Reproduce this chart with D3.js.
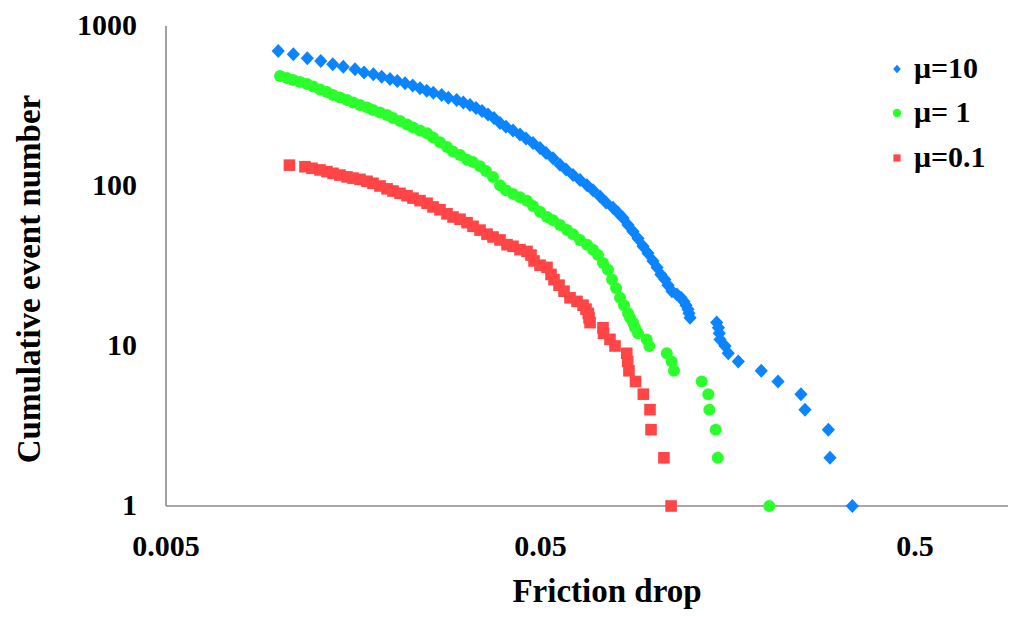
<!DOCTYPE html>
<html>
<head>
<meta charset="utf-8">
<script src="https://cdn.jsdelivr.net/npm/d3@7"></script>
<style>
  html, body { margin: 0; padding: 0; background: #fff; }
  svg { display: block; }
  text { font-family: "Liberation Serif", "Times New Roman", serif; fill: #000; }
</style>
</head>
<body>
<svg id="chart" width="1020" height="617"></svg>
<script>
// Cumulative number of events vs. friction drop, for three viscosity ratios.
const seriesNames = ["\u03bc=10", "\u03bc= 1", "\u03bc=0.1"];

// mu = 10
const mu10Drop = [0.00997, 0.01094, 0.01192, 0.01295, 0.01394, 0.01487, 0.01598, 0.01690, 0.01789, 0.01883,
  0.01982, 0.02073, 0.02174, 0.02279, 0.02384, 0.02484, 0.02587, 0.02723, 0.02837, 0.02987,
  0.03111, 0.03242, 0.03364, 0.03490, 0.03621, 0.03757, 0.03898, 0.04044, 0.04222, 0.04408,
  0.04574, 0.04775, 0.04985, 0.05172, 0.05400, 0.05637, 0.05850, 0.06107, 0.06376, 0.06656,
  0.06906, 0.07210, 0.07481, 0.07810, 0.08054, 0.08306, 0.08565, 0.08830, 0.09106, 0.09391,
  0.09684, 0.09986, 0.1024, 0.1048, 0.1074, 0.1095, 0.1122, 0.1157, 0.1186, 0.1208,
  0.1223, 0.1238, 0.1246, 0.1254, 0.1477, 0.1493, 0.1501, 0.1508, 0.1555, 0.1586,
  0.1687, 0.1943, 0.2154, 0.2480, 0.2542, 0.2935, 0.2965, 0.3401];
const mu10Count = [698, 665, 628, 604, 576, 557, 536, 513, 499, 482,
  466, 453, 438, 424, 408, 394, 383, 370, 356, 345,
  332, 321, 307, 294, 280, 266, 248, 235, 222, 210,
  198, 186, 173, 161, 149, 136, 127, 117, 109, 101,
  94, 86, 79, 73, 68, 63, 57, 52, 47, 42,
  38, 34, 31, 28, 26, 24, 22, 21, 20, 19,
  18, 17, 16, 15, 14, 13, 12, 11, 10, 9,
  8, 7, 6, 5, 4, 3, 2, 1];

// mu = 1
const mu1Drop = [0.01008, 0.01052, 0.01092, 0.01140, 0.01190, 0.01235, 0.01289, 0.01345, 0.01396, 0.01457,
  0.01522, 0.01579, 0.01648, 0.01721, 0.01785, 0.01864, 0.01946, 0.02019, 0.02108, 0.02201,
  0.02283, 0.02384, 0.02489, 0.02582, 0.02695, 0.02814, 0.02920, 0.03049, 0.03183, 0.03302,
  0.03447, 0.03577, 0.03734, 0.03898, 0.04044, 0.04222, 0.04408, 0.04602, 0.04775, 0.04985,
  0.05204, 0.05400, 0.05637, 0.05885, 0.06107, 0.06376, 0.06656, 0.06906, 0.07121, 0.07343,
  0.07572, 0.07761, 0.07955, 0.08154, 0.08357, 0.08565, 0.08670, 0.08830, 0.08939, 0.09106,
  0.09606, 0.09760, 0.1087, 0.1120, 0.1136, 0.1347, 0.1403, 0.1412, 0.1468, 0.1487,
  0.2041];
const mu1Count = [487, 473, 460, 447, 434, 419, 401, 387, 370, 357,
  345, 333, 321, 310, 299, 288, 278, 266, 255, 242,
  232, 222, 214, 201, 188, 175, 164, 156, 146, 141,
  133, 124, 114, 101, 94, 89, 85, 81, 75, 69,
  64, 61, 57, 53, 50, 46, 43, 40, 37, 33,
  30, 26, 23, 20, 18, 16, 15, 14, 13, 12,
  11, 10, 9, 8, 7, 6, 5, 4, 3, 2,
  1];

// mu = 0.1
const mu01Drop = [0.01068, 0.01175, 0.01227, 0.01289, 0.01345, 0.01396, 0.01457, 0.01522, 0.01579, 0.01648,
  0.01721, 0.01785, 0.01864, 0.01946, 0.02019, 0.02108, 0.02201, 0.02283, 0.02384, 0.02489,
  0.02582, 0.02695, 0.02814, 0.02920, 0.03049, 0.03183, 0.03302, 0.03447, 0.03599, 0.03734,
  0.03898, 0.04070, 0.04222, 0.04408, 0.04602, 0.04717, 0.04805, 0.04985, 0.05204, 0.05334,
  0.05433, 0.05603, 0.05778, 0.05995, 0.06259, 0.06494, 0.06615, 0.06709, 0.06738, 0.06782,
  0.07343, 0.07366, 0.07664, 0.07906, 0.08496, 0.08546, 0.08613, 0.08969, 0.09408, 0.09803,
  0.09866, 0.1068, 0.1116];
const mu01Count = [135, 132, 129, 126, 123, 120, 117, 114, 112, 110,
  107, 104, 100, 96, 93, 90, 87, 84, 81, 78,
  74, 71, 67, 64, 62, 59, 56, 53, 50, 48,
  46, 43, 42, 40, 39, 37, 34, 32, 31, 28,
  26, 24, 22, 20, 19, 18, 17, 16, 15, 14,
  13, 12, 11, 10, 9, 8, 7, 6, 5, 4,
  3, 2, 1];

const xTicks = [0.005, 0.05, 0.5];
const xTickLabels = ["0.005", "0.05", "0.5"];
const yTicks = [1, 10, 100, 1000];
const yTickLabels = ["1", "10", "100", "1000"];

const colors = ["#0a84ff", "#2bff2b", "#ff4545"];

const svg = d3.select("#chart");

const plot = { left: 166, right: 1008, top: 26, bottom: 506 };

const x = d3.scaleLog().domain([0.005, 0.5]).range([plot.left, 915]);
const y = d3.scaleLog().domain([1, 1000]).range([plot.bottom, plot.top]);

// axes (lines only, no tick marks)
svg.append("line")
  .attr("x1", plot.left).attr("x2", plot.right)
  .attr("y1", plot.bottom).attr("y2", plot.bottom)
  .attr("stroke", "#8a8a8a").attr("stroke-width", 1.6);
svg.append("line")
  .attr("x1", plot.left).attr("x2", plot.left)
  .attr("y1", plot.top).attr("y2", plot.bottom)
  .attr("stroke", "#8a8a8a").attr("stroke-width", 1.6);

// tick labels
svg.append("g").selectAll("text").data(yTicks).join("text")
  .attr("x", 137)
  .attr("y", d => y(d) + 9)
  .attr("text-anchor", "end")
  .attr("font-size", 30)
  .attr("font-weight", "bold")
  .text((d, i) => yTickLabels[i]);

svg.append("g").selectAll("text").data(xTicks).join("text")
  .attr("x", d => x(d))
  .attr("y", 556)
  .attr("text-anchor", "middle")
  .attr("font-size", 30)
  .attr("font-weight", "bold")
  .text((d, i) => xTickLabels[i]);

// axis titles
svg.append("text")
  .attr("x", 607).attr("y", 602)
  .attr("text-anchor", "middle")
  .attr("font-size", 33)
  .attr("font-weight", "bold")
  .text("Friction drop");

svg.append("text")
  .attr("transform", "translate(40,279) rotate(-90)")
  .attr("text-anchor", "middle")
  .attr("font-size", 33)
  .attr("font-weight", "bold")
  .text("Cumulative event number");

// marker shapes
function diamond(hw, hh) { return `M0,${-hh}L${hw},0L0,${hh}L${-hw},0Z`; }
function square(h) { return `M${-h},${-h}H${h}V${h}H${-h}Z`; }
function circle(r) { return `M${r},0A${r},${r} 0 1,1 ${-r},0A${r},${r} 0 1,1 ${r},0Z`; }

const series = [
  { drop: mu10Drop, count: mu10Count, shape: diamond(6.6, 7), legendShape: diamond(3.8, 4.2) },
  { drop: mu1Drop, count: mu1Count, shape: circle(6), legendShape: circle(4.2) },
  { drop: mu01Drop, count: mu01Count, shape: square(5.8), legendShape: square(3.6) }
];

series.forEach((s, i) => {
  const pts = s.drop.map((v, k) => [v, s.count[k]]);
  svg.append("g").selectAll("path").data(pts).join("path")
    .attr("transform", d => `translate(${x(d[0])},${y(d[1])})`)
    .attr("d", s.shape)
    .attr("fill", colors[i]);
});

// legend
const legendY = [69, 113, 158];
const lg = svg.append("g");
series.forEach((s, i) => {
  lg.append("path")
    .attr("transform", `translate(897,${legendY[i]})`)
    .attr("d", s.legendShape)
    .attr("fill", colors[i]);
  lg.append("text")
    .attr("x", 914).attr("y", legendY[i] + 9)
    .attr("font-size", 30)
    .attr("font-weight", "bold")
    .text(seriesNames[i]);
});
</script>
</body>
</html>
